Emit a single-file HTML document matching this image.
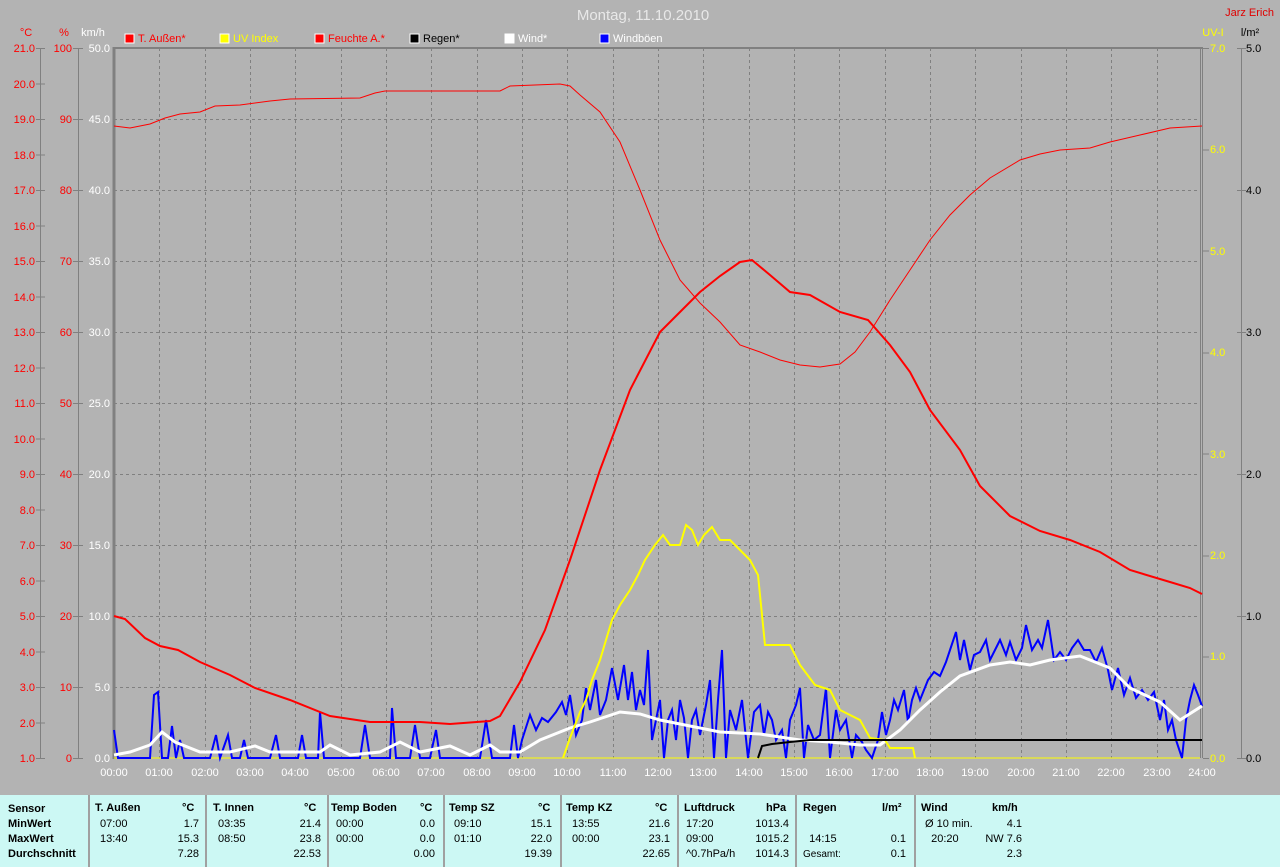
<!DOCTYPE html><html><head><style>
body{margin:0;background:#b3b3b3;width:1280px;height:867px;overflow:hidden;font-family:"Liberation Sans",sans-serif}
svg{position:absolute;left:0;top:0}
#tb{position:absolute;left:0;top:795px;width:1280px;height:72px;background:#ccf8f4;font-size:11px;color:#000}
.c{position:absolute;top:0;height:72px;border-left:2px solid #a0a0a0}
.r{position:absolute;white-space:nowrap}
.b{font-weight:bold}
</style></head><body>
<svg width="1280" height="795" font-family="Liberation Sans, sans-serif" font-size="11">
<text x="643" y="20" fill="#e8e8e8" font-size="15" text-anchor="middle">Montag, 11.10.2010</text>
<text x="1274" y="16" fill="#e00000" text-anchor="end" font-size="11">Jarz Erich</text>
<text x="26" y="36" fill="#f00" text-anchor="middle">°C</text>
<text x="64" y="36" fill="#f00" text-anchor="middle">%</text>
<text x="93" y="36" fill="#fff" text-anchor="middle">km/h</text>
<text x="1213" y="36" fill="#ff0" text-anchor="middle">UV-I</text>
<text x="1250" y="36" fill="#000" text-anchor="middle">l/m²</text>
<g font-size="11">
<rect x="125" y="34" width="9" height="9" fill="#f00" stroke="#fff"/><text x="138" y="42" fill="#f00">T. Außen*</text>
<rect x="220" y="34" width="9" height="9" fill="#ff0" stroke="#fff"/><text x="233" y="42" fill="#ff0">UV Index</text>
<rect x="315" y="34" width="9" height="9" fill="#f00" stroke="#fff"/><text x="328" y="42" fill="#f00">Feuchte A.*</text>
<rect x="410" y="34" width="9" height="9" fill="#000" stroke="#fff"/><text x="423" y="42" fill="#000">Regen*</text>
<rect x="505" y="34" width="9" height="9" fill="#fff" stroke="#fff"/><text x="518" y="42" fill="#fff">Wind*</text>
<rect x="600" y="34" width="9" height="9" fill="#00f" stroke="#fff"/><text x="613" y="42" fill="#fff">Windböen</text>
</g>
<g stroke="#808080" stroke-dasharray="3,3" stroke-width="1">
<path d="M114 119.5H1200M114 190.5H1200M114 261.5H1200M114 332.5H1200M114 403.5H1200M114 474.5H1200M114 545.5H1200M114 616.5H1200M114 687.5H1200"/>
<path d="M159.5 48V758M205.5 48V758M250.5 48V758M295.5 48V758M341.5 48V758M386.5 48V758M431.5 48V758M477.5 48V758M522.5 48V758M567.5 48V758M613.5 48V758M658.5 48V758M703.5 48V758M749.5 48V758M794.5 48V758M839.5 48V758M885.5 48V758M930.5 48V758M975.5 48V758M1021.5 48V758M1066.5 48V758M1111.5 48V758M1157.5 48V758"/>
</g>
<g stroke="#808080" fill="none">
<path d="M114 48H1203" stroke-width="2"/>
<path d="M114 47V759" stroke-width="3"/>
<path d="M1200.5 48V758M1202.5 48V758"/>
<path d="M40.5 48V758M78.5 48V758M1241.5 48V758"/>
</g>
<g id="ticks" stroke="#808080"></g>
<g font-size="11" text-anchor="end">
<g fill="#f00">
<text x="35" y="52">21.0</text><text x="35" y="88">20.0</text><text x="35" y="123">19.0</text><text x="35" y="159">18.0</text><text x="35" y="194">17.0</text><text x="35" y="230">16.0</text><text x="35" y="265">15.0</text><text x="35" y="301">14.0</text><text x="35" y="336">13.0</text><text x="35" y="372">12.0</text><text x="35" y="407">11.0</text><text x="35" y="443">10.0</text><text x="35" y="478">9.0</text><text x="35" y="514">8.0</text><text x="35" y="549">7.0</text><text x="35" y="585">6.0</text><text x="35" y="620">5.0</text><text x="35" y="656">4.0</text><text x="35" y="691">3.0</text><text x="35" y="727">2.0</text><text x="35" y="762">1.0</text>
<text x="72" y="52">100</text><text x="72" y="123">90</text><text x="72" y="194">80</text><text x="72" y="265">70</text><text x="72" y="336">60</text><text x="72" y="407">50</text><text x="72" y="478">40</text><text x="72" y="549">30</text><text x="72" y="620">20</text><text x="72" y="691">10</text><text x="72" y="762">0</text>
</g>
<g fill="#fff">
<text x="110" y="52">50.0</text><text x="110" y="123">45.0</text><text x="110" y="194">40.0</text><text x="110" y="265">35.0</text><text x="110" y="336">30.0</text><text x="110" y="407">25.0</text><text x="110" y="478">20.0</text><text x="110" y="549">15.0</text><text x="110" y="620">10.0</text><text x="110" y="691">5.0</text><text x="110" y="762">0.0</text>
</g>
<g fill="#ff0" text-anchor="start">
<text x="1210" y="52">7.0</text><text x="1210" y="153">6.0</text><text x="1210" y="255">5.0</text><text x="1210" y="356">4.0</text><text x="1210" y="458">3.0</text><text x="1210" y="559">2.0</text><text x="1210" y="660">1.0</text><text x="1210" y="762">0.0</text>
</g>
<g fill="#000" text-anchor="start">
<text x="1246" y="52">5.0</text><text x="1246" y="194">4.0</text><text x="1246" y="336">3.0</text><text x="1246" y="478">2.0</text><text x="1246" y="620">1.0</text><text x="1246" y="762">0.0</text>
</g>
</g>
<g stroke="#808080">
<path d="M36 48.5h9M36 84h9M36 119.5h9M36 155h9M36 190.5h9M36 226h9M36 261.5h9M36 297h9M36 332.5h9M36 368h9M36 403.5h9M36 439h9M36 474.5h9M36 510h9M36 545.5h9M36 581h9M36 616.5h9M36 652h9M36 687.5h9M36 723h9M36 758.5h9"/>
<path d="M73 48.5h10M73 119.5h10M73 190.5h10M73 261.5h10M73 332.5h10M73 403.5h10M73 474.5h10M73 545.5h10M73 616.5h10M73 687.5h10M73 758.5h10"/>
<path d="M1203 48.5h6M1203 150h6M1203 251h6M1203 353h6M1203 454h6M1203 556h6M1203 657h6M1203 758.5h6"/>
<path d="M1237 48.5h9M1237 190.5h9M1237 332.5h9M1237 474.5h9M1237 616.5h9M1237 758.5h9"/>
</g>
<g fill="#fff" font-size="11" text-anchor="middle">
<text x="114" y="776">00:00</text><text x="159" y="776">01:00</text><text x="205" y="776">02:00</text><text x="250" y="776">03:00</text><text x="295" y="776">04:00</text><text x="341" y="776">05:00</text><text x="386" y="776">06:00</text><text x="431" y="776">07:00</text><text x="477" y="776">08:00</text><text x="522" y="776">09:00</text><text x="567" y="776">10:00</text><text x="613" y="776">11:00</text><text x="658" y="776">12:00</text><text x="703" y="776">13:00</text><text x="749" y="776">14:00</text><text x="794" y="776">15:00</text><text x="839" y="776">16:00</text><text x="885" y="776">17:00</text><text x="930" y="776">18:00</text><text x="975" y="776">19:00</text><text x="1021" y="776">20:00</text><text x="1066" y="776">21:00</text><text x="1111" y="776">22:00</text><text x="1157" y="776">23:00</text><text x="1202" y="776">24:00</text>
</g>
<path d="M114 758H1200" stroke="#ff0" stroke-width="1"/>
<polyline fill="none" stroke="#00f" stroke-width="2" points="114,730 118,758 130,758 150,758 154,695 158,692 162,758 168,758 172,726 176,758 180,740 184,758 210,758 216,735 220,758 228,735 232,758 240,758 244,740 248,758 270,758 276,735 280,758 298,758 302,735 306,758 318,758 320,712 324,758 360,758 365,725 370,758 390,758 392,708 396,758 410,758 415,725 420,758 430,758 436,730 440,758 480,758 486,720 492,758 510,758 514,725 518,758 522,740 530,715 536,730 542,718 548,722 556,712 562,702 566,715 570,695 576,735 582,720 586,688 590,710 596,680 600,715 606,700 612,668 618,700 624,665 628,700 632,672 636,710 640,690 644,705 648,650 652,740 656,720 660,700 664,758 668,720 672,710 676,740 680,700 684,718 688,758 692,720 696,710 700,735 706,705 710,680 714,758 718,700 722,650 726,758 730,710 736,730 742,700 748,758 754,712 760,705 764,735 768,712 772,720 776,740 782,730 786,758 790,720 796,705 800,688 804,758 808,725 814,740 820,735 826,688 830,758 836,710 840,730 846,720 852,758 856,735 862,742 866,750 872,758 878,740 882,712 886,735 890,720 894,700 898,710 904,690 908,722 912,700 916,688 920,700 928,680 934,672 940,676 946,662 950,650 956,632 960,660 964,640 970,670 974,655 980,652 986,640 990,660 996,648 1000,640 1006,655 1010,642 1016,660 1022,648 1026,625 1032,650 1038,640 1042,648 1048,620 1054,660 1060,652 1066,660 1072,648 1078,640 1084,650 1090,650 1096,662 1102,648 1108,670 1112,690 1118,668 1124,695 1130,678 1136,698 1142,690 1148,700 1154,692 1160,720 1164,700 1168,730 1172,720 1176,740 1182,758 1186,720 1190,700 1194,685 1198,695 1202,706"/>
<polyline fill="none" stroke="#fff" stroke-width="3" points="114,755 130,752 150,745 162,732 175,742 200,752 230,752 255,746 270,752 320,752 330,745 350,755 380,752 400,742 420,752 450,746 470,755 490,745 500,752 520,752 540,740 570,728 590,722 620,712 640,714 660,720 690,726 720,732 760,734 800,740 830,742 860,745 880,745 900,730 920,710 940,692 960,676 990,665 1010,662 1030,665 1050,660 1080,656 1110,668 1130,688 1160,702 1180,720 1202,706"/>
<polyline fill="none" stroke="#ff0" stroke-width="2" points="563,758 570,738 580,712 586,700 592,680 600,660 606,640 612,620 620,605 630,590 638,575 645,560 655,545 663,535 670,545 680,545 686,525 692,530 698,545 704,535 712,527 720,540 730,540 740,550 750,560 758,575 765,645 790,645 800,665 815,685 830,690 840,710 860,720 870,738 885,740 890,748 913,748 915,758"/>
<polyline fill="none" stroke="#000" stroke-width="2" points="758,758 762,746 772,744 790,742 810,740 1202,740"/>
<polyline fill="none" stroke="#f00" stroke-width="1" points="114,126 130,128 150,124 165,118 180,114 200,112 215,106 240,105 270,101 290,99 360,98 375,93 385,91 500,91 510,86 560,84 570,86 580,95 600,112 620,142 640,190 660,240 680,280 700,303 720,322 740,345 760,352 780,360 800,365 820,367 840,364 855,352 870,332 890,300 910,270 930,240 950,215 970,195 990,178 1020,160 1040,154 1060,150 1090,148 1110,142 1140,135 1170,128 1202,126"/>
<polyline fill="none" stroke="#f00" stroke-width="2" points="114,616 125,619 145,638 160,646 178,650 200,662 230,675 255,688 290,700 330,716 370,722 420,722 450,724 490,721 500,716 520,682 545,630 570,560 600,470 630,390 660,332 680,312 700,292 720,276 740,262 752,260 770,275 790,292 810,295 840,312 868,320 890,345 910,372 930,410 960,450 980,486 1010,516 1040,531 1070,540 1100,552 1130,570 1170,582 1190,588 1202,594"/>
</svg>
<div id="tb">
<div class="c" style="left:88px"></div><div class="c" style="left:205px"></div><div class="c" style="left:327px"></div><div class="c" style="left:443px"></div><div class="c" style="left:560px"></div><div class="c" style="left:677px"></div><div class="c" style="left:795px"></div><div class="c" style="left:914px"></div>
<div class="r b" style="left:8px;top:7px;line-height:15px">Sensor<br>MinWert<br>MaxWert<br>Durchschnitt</div>
<div class="r b" style="left:95px;top:7px">T. Außen</div><div class="r b" style="left:182px;top:7px">°C</div>
<div class="r" style="left:100px;top:22px;line-height:15px">07:00<br>13:40</div><div class="r" style="left:150px;width:49px;text-align:right;top:22px;line-height:15px">1.7<br>15.3<br>7.28</div>
<div class="r b" style="left:213px;top:7px">T. Innen</div><div class="r b" style="left:304px;top:7px">°C</div>
<div class="r" style="left:218px;top:22px;line-height:15px">03:35<br>08:50</div><div class="r" style="left:270px;width:51px;text-align:right;top:22px;line-height:15px">21.4<br>23.8<br>22.53</div>
<div class="r b" style="left:331px;top:7px">Temp Boden</div><div class="r b" style="left:420px;top:7px">°C</div>
<div class="r" style="left:336px;top:22px;line-height:15px">00:00<br>00:00</div><div class="r" style="left:390px;width:45px;text-align:right;top:22px;line-height:15px">0.0<br>0.0<br>0.00</div>
<div class="r b" style="left:449px;top:7px">Temp SZ</div><div class="r b" style="left:538px;top:7px">°C</div>
<div class="r" style="left:454px;top:22px;line-height:15px">09:10<br>01:10</div><div class="r" style="left:500px;width:52px;text-align:right;top:22px;line-height:15px">15.1<br>22.0<br>19.39</div>
<div class="r b" style="left:566px;top:7px">Temp KZ</div><div class="r b" style="left:655px;top:7px">°C</div>
<div class="r" style="left:572px;top:22px;line-height:15px">13:55<br>00:00</div><div class="r" style="left:620px;width:50px;text-align:right;top:22px;line-height:15px">21.6<br>23.1<br>22.65</div>
<div class="r b" style="left:684px;top:7px">Luftdruck</div><div class="r b" style="left:766px;top:7px">hPa</div>
<div class="r" style="left:686px;top:22px;line-height:15px">17:20<br>09:00<br>^0.7hPa/h</div><div class="r" style="left:740px;width:49px;text-align:right;top:22px;line-height:15px">1013.4<br>1015.2<br>1014.3</div>
<div class="r b" style="left:803px;top:7px">Regen</div><div class="r b" style="left:882px;top:7px">l/m²</div>
<div class="r" style="left:803px;top:22px;line-height:15px"><br>&nbsp;&nbsp;14:15<br><span style="font-size:10px">Gesamt:</span></div><div class="r" style="left:860px;width:46px;text-align:right;top:22px;line-height:15px"><br>0.1<br>0.1</div>
<div class="r b" style="left:921px;top:7px">Wind</div><div class="r b" style="left:992px;top:7px">km/h</div>
<div class="r" style="left:925px;top:22px;line-height:15px">Ø 10 min.<br>&nbsp;&nbsp;20:20</div><div class="r" style="left:970px;width:52px;text-align:right;top:22px;line-height:15px">4.1<br>NW 7.6<br>2.3</div>
</div>
</body></html>
